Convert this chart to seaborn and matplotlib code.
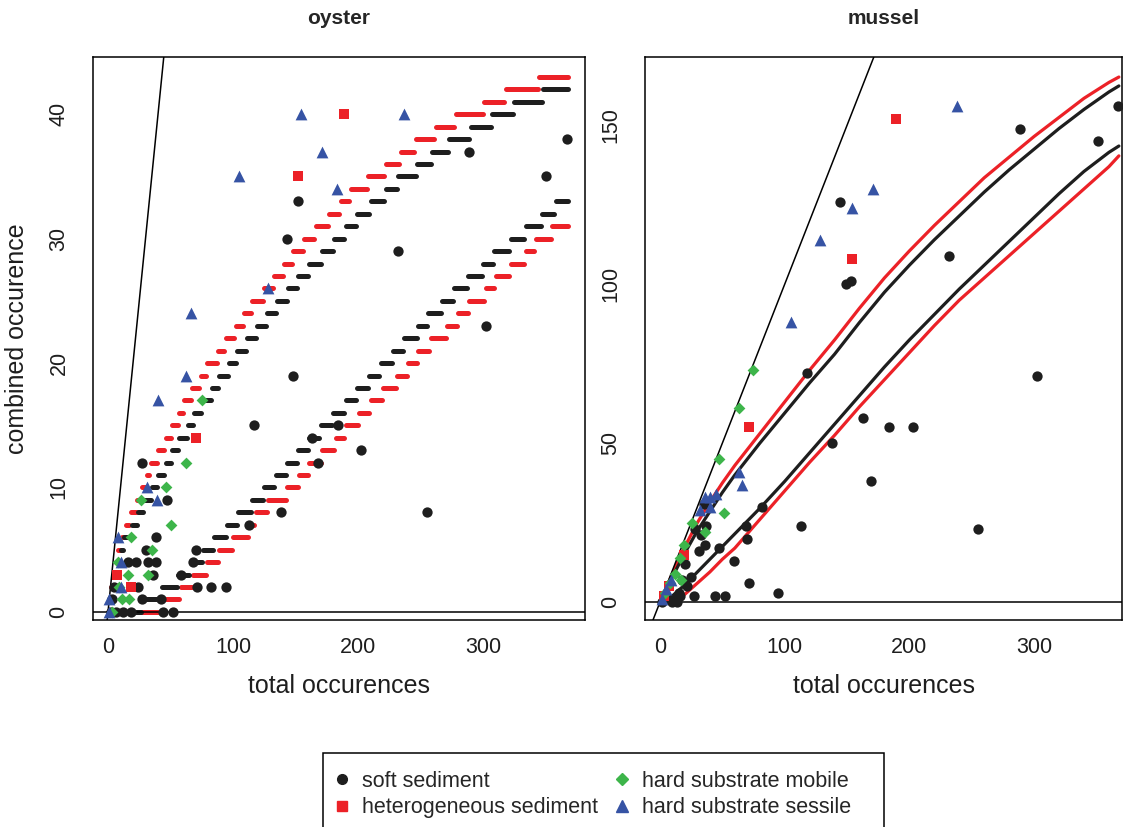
import numpy as np
import pandas as pd
import matplotlib
matplotlib.use("Agg")
import matplotlib.pyplot as plt
from matplotlib import font_manager
from matplotlib.lines import Line2D
from matplotlib.patches import Rectangle
import seaborn as sns

# ---- categories / styles
categories = ["soft sediment", "heterogeneous sediment", "hard substrate mobile", "hard substrate sessile"]
cat_colors = ["#1e1e1e", "#ec2127", "#3db54a", "#3653a4"]
cat_markers = ["o", "s", "D", "^"]
cat_sizes = [55, 44, 36, 72]

# ---- oyster observations (total, combined)
oy_soft_x = [367, 289, 350, 232, 152, 143, 148, 117, 302, 184, 202, 255, 163, 168, 27, 138, 113, 47, 38, 30, 70,
             16, 22, 32, 38, 68, 36, 58, 5, 24, 71, 82, 94, 3, 27, 42, 2, 6, 12, 18, 44, 52]
oy_soft_y = [38, 37, 35, 29, 33, 30, 19, 15, 23, 15, 13, 8, 14, 12, 12, 8, 7, 9, 6, 5, 5,
             4, 4, 4, 4, 4, 3, 3, 2, 2, 2, 2, 2, 1, 1, 1, 0, 0, 0, 0, 0, 0]
oy_het_x = [189, 152, 70, 7, 18]
oy_het_y = [40, 35, 14, 3, 2]
oy_mob_x = [75, 62, 46, 26, 50, 18, 35, 8, 16, 32, 9, 11, 17, 3]
oy_mob_y = [17, 12, 10, 9, 7, 6, 5, 4, 3, 3, 2, 1, 1, 0]
oy_ses_x = [154, 171, 105, 183, 128, 237, 66, 62, 40, 31, 39, 8, 10, 10, 1, 1]
oy_ses_y = [40, 37, 35, 34, 26, 40, 24, 19, 17, 10, 9, 6, 4, 2, 1, 0]

# ---- mussel observations (total, combined)
mu_soft_x = [367, 289, 351, 232, 149, 153, 144, 118, 163, 184, 203, 138, 302, 255, 169, 113, 95, 71, 59, 70, 47,
             82, 69, 52, 44, 27, 36, 31, 37, 28, 33, 35, 20, 22, 15, 14, 10, 5, 2, 18, 16, 12, 25]
mu_soft_y = [156, 149, 145, 109, 100, 101, 126, 72, 58, 55, 55, 50, 71, 23, 38, 24, 3, 6, 13, 20, 17,
             30, 24, 2, 2, 2, 18, 16, 24, 23, 21, 31, 12, 5, 3, 0, 0, 1, 0, 7, 2, 1, 8]
mu_het_x = [189, 154, 71, 19, 7, 3]
mu_het_y = [152, 108, 55, 15, 5, 2]
mu_mob_x = [63, 75, 47, 51, 26, 36, 19, 16, 17, 12, 4, 8]
mu_mob_y = [61, 73, 45, 28, 25, 22, 18, 14, 7, 9, 3, 6]
mu_ses_x = [238, 171, 154, 128, 105, 63, 66, 45, 40, 40, 32, 36, 9, 5, 2]
mu_ses_y = [156, 130, 124, 114, 88, 41, 37, 34, 33, 30, 29, 33, 7, 4, 1]

# ---- oyster null envelopes: total at which combined value k (=0,1,2,...) starts
oy_band_end = 368
oy_upper_black = [0, 1, 3, 6, 8, 10, 13, 19, 24, 29, 35, 40, 46, 51, 57, 64, 69, 75, 83, 89, 97, 103, 111, 119,
                  127, 135, 144, 152, 161, 171, 181, 190, 199, 210, 222, 232, 247, 259, 273, 290, 307, 325, 348]
oy_upper_red = [0, 1, 2, 4, 6, 8, 11, 14, 18, 23, 27, 31, 34, 40, 46, 51, 57, 61, 67, 74, 79, 88, 94, 102,
                109, 115, 125, 133, 141, 148, 157, 166, 177, 186, 194, 208, 222, 234, 246, 262, 278, 301, 318, 345]
oy_lower_black = [0, 27, 43, 56, 66, 76, 85, 95, 104, 115, 125, 134, 143, 152, 161, 170, 180, 190, 199, 209,
                  218, 228, 237, 248, 256, 267, 277, 288, 300, 309, 322, 334, 347, 358]
oy_lower_red = [0, 44, 58, 68, 79, 89, 100, 113, 118, 128, 143, 153, 161, 171, 182, 190, 201, 210, 220, 231,
                240, 248, 258, 271, 280, 289, 302, 310, 322, 334, 342, 355]

# ---- mussel null envelopes (read at these totals)
mu_band_x = [0, 10, 20, 30, 40, 50, 60, 80, 100, 120, 140, 160, 180, 200, 220, 240, 260, 280, 300, 320, 340, 360, 368]
mu_upper_black = [0, 8, 15.5, 22.5, 28.5, 34.5, 40, 50, 59.5, 69, 78, 88, 97.5, 106, 114, 121.5, 129, 136, 142.5, 149, 155, 160.5, 162.4]
mu_upper_red = [0, 9, 17.5, 25, 31.5, 37.5, 43, 53, 63, 73, 82.5, 92.5, 102, 110.5, 118.5, 126, 133.5, 140, 146.5, 152.5, 158.5, 163.5, 165.2]
mu_lower_black = [0, 2, 5.5, 9.5, 13.5, 17.5, 21.5, 29.5, 38, 47, 56, 65, 74, 82.5, 90.5, 98.5, 106, 113.5, 121, 128.5, 135.5, 141.5, 143.5]
mu_lower_red = [0, 1, 2.5, 6, 9.5, 13.5, 17, 26, 35, 44, 52.5, 61.5, 70, 78.5, 87, 95, 102, 109, 116, 123, 130, 137, 140.4]

sns.set_style("white")
names = {f.name for f in font_manager.fontManager.ttflist}
base_font = "Liberation Sans" if "Liberation Sans" in names else "DejaVu Sans"
title_font = "Liberation Sans Narrow" if "Liberation Sans Narrow" in names else base_font
plt.rcParams["font.family"] = [base_font, "DejaVu Sans"]

W, H = 1134, 827
fig = plt.figure(figsize=(W / 100, H / 100), dpi=100)


def px_axes(left, top, right, bottom):
    return fig.add_axes([left / W, 1 - bottom / H, (right - left) / W, (bottom - top) / H])


ax_oy = px_axes(93, 57, 585, 620)
ax_mu = px_axes(645, 57, 1122, 620)

BLACK_BAND = "#1e1e1e"
RED_BAND = "#ec2127"


def step_band(ax, starts, color):
    starts = np.asarray(starts)
    ends = np.append(starts[1:] - 1, oy_band_end)
    lc = ax.hlines(np.arange(len(starts)), starts, ends, colors=color, linewidth=3.6, zorder=2)
    lc.set_capstyle("round")


step_band(ax_oy, oy_upper_red, RED_BAND)
step_band(ax_oy, oy_lower_red, RED_BAND)
step_band(ax_oy, oy_upper_black, BLACK_BAND)
step_band(ax_oy, oy_lower_black, BLACK_BAND)

for vals, col in [(mu_upper_red, RED_BAND), (mu_lower_red, RED_BAND),
                  (mu_upper_black, BLACK_BAND), (mu_lower_black, BLACK_BAND)]:
    sns.lineplot(x=mu_band_x, y=vals, color=col, linewidth=2.3, ax=ax_mu, zorder=2)

obs = {
    ax_oy: [(oy_soft_x, oy_soft_y), (oy_het_x, oy_het_y), (oy_mob_x, oy_mob_y), (oy_ses_x, oy_ses_y)],
    ax_mu: [(mu_soft_x, mu_soft_y), (mu_het_x, mu_het_y), (mu_mob_x, mu_mob_y), (mu_ses_x, mu_ses_y)],
}

for ax, groups in obs.items():
    ax.axline((0, 0), (1, 1), color="black", linewidth=1.1, zorder=3)
    ax.axhline(0, color="black", linewidth=1.1, zorder=3)
    for (xs, ys), cat, col, mk, sz in zip(groups, categories, cat_colors, cat_markers, cat_sizes):
        df = pd.DataFrame({"total": xs, "combined": ys})
        sns.scatterplot(data=df, x="total", y="combined", color=col, marker=mk, s=sz,
                        linewidth=0, ax=ax, zorder=4)

ax_oy.set_xlim(-12, 381.5)
ax_oy.set_ylim(-0.65, 44.6)
ax_oy.set_xticks([0, 100, 200, 300])
ax_oy.set_yticks([0, 10, 20, 30, 40])
ax_mu.set_xlim(-12, 370.5)
ax_mu.set_ylim(-5.6, 171.5)
ax_mu.set_xticks([0, 100, 200, 300])
ax_mu.set_yticks([0, 50, 100, 150])

for ax, title in [(ax_oy, "oyster"), (ax_mu, "mussel")]:
    for sp in ax.spines.values():
        sp.set_visible(True)
        sp.set_color("black")
        sp.set_linewidth(1.1)
    ax.tick_params(axis="both", direction="out", length=7, width=1, color="black",
                   labelsize=15.5, labelcolor="#1e1e1e")
    ax.tick_params(axis="x", pad=5)
    ax.tick_params(axis="y", pad=10, labelrotation=90)
    for lbl in ax.get_yticklabels():
        lbl.set_va("center")
    ax.set_xlabel("total occurences", fontsize=18, color="#1e1e1e", labelpad=12)
    ax.set_ylabel("")
    ax.text(0.5, 1 + 38 / 563, title, transform=ax.transAxes, ha="center", va="center",
            fontsize=15, fontweight="bold", family=[title_font, "DejaVu Sans"])
    ax.grid(False)

ax_oy.set_ylabel("combined occurence", fontsize=18, color="#1e1e1e", labelpad=14)

# legend
fig.add_artist(Rectangle((323 / W, -0.05), (884 - 323) / W, 0.05 + 1 - 753 / H,
                         transform=fig.transFigure, fill=False, edgecolor="black", linewidth=1.1))
handles = [Line2D([], [], linestyle="", marker=m, color=c, markersize=ms)
           for m, c, ms in zip(cat_markers, cat_colors, [7, 6.5, 6, 8.5])]
fig.legend(handles, categories, loc="upper left", bbox_to_anchor=(331 / W, 1 - 771 / H),
           ncol=2, frameon=False, fontsize=15.5, borderpad=0, borderaxespad=0,
           handlelength=1.0, handletextpad=0.45, columnspacing=0.6, labelspacing=0.25)

fig.savefig("out.png", dpi=100)
